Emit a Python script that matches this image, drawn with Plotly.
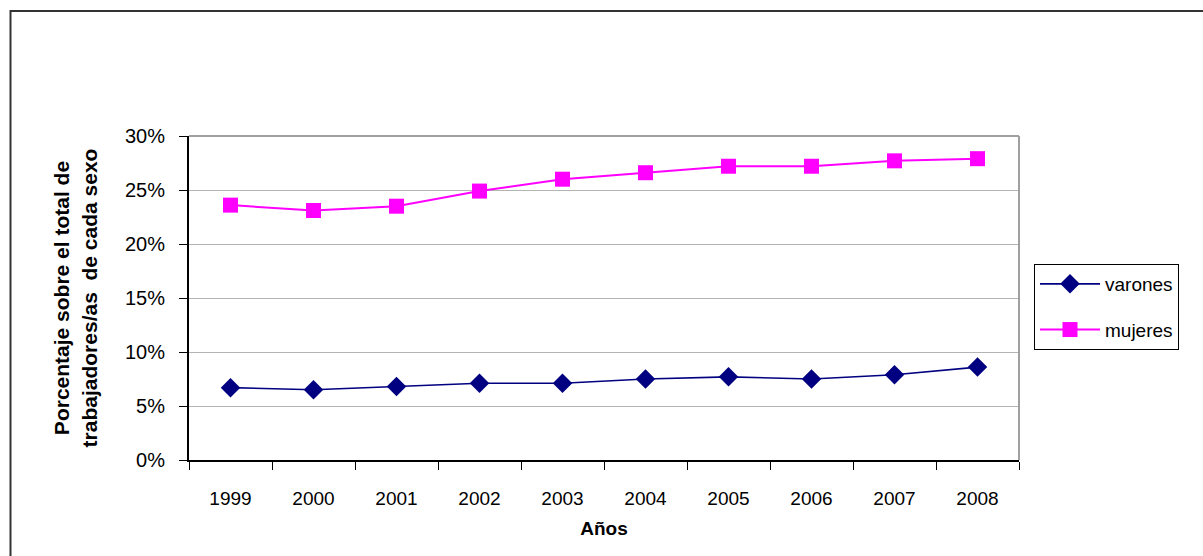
import plotly.graph_objects as go

# Años y porcentajes por sexo
anios = ["1999", "2000", "2001", "2002", "2003", "2004", "2005", "2006", "2007", "2008"]
varones = [6.7, 6.5, 6.8, 7.1, 7.1, 7.5, 7.7, 7.5, 7.9, 8.6]
mujeres = [23.6, 23.1, 23.5, 24.9, 26.0, 26.6, 27.2, 27.2, 27.7, 27.9]
y_ticks = [0, 5, 10, 15, 20, 25, 30]
y_labels = [f"{v}%" for v in y_ticks]

W, H = 1203, 556
L, R, T, B = 189, 1019, 136, 460   # plot area in pixels

SANS = "Liberation Sans, Arial, sans-serif"


def px_x(p):
    return (p - L) / (R - L)


def px_y(p):
    return (B - p) / (B - T)


fig = go.Figure()
fig.add_trace(go.Scatter(
    x=anios, y=varones, name="varones", legendgroup="v", mode="lines+markers",
    line=dict(color="#000080", width=1.6),
    marker=dict(symbol="diamond", size=15, color="#000080"),
))
fig.add_trace(go.Scatter(
    x=anios, y=mujeres, name="mujeres", legendgroup="m", mode="lines+markers",
    line=dict(color="#FF00FF", width=2),
    marker=dict(symbol="square", size=15, color="#FF00FF"),
))

fig.update_layout(
    width=W, height=H,
    margin=dict(l=L, r=W - R, t=T, b=H - B),
    paper_bgcolor="white", plot_bgcolor="white",
    font=dict(family=SANS, size=19, color="black"),
    showlegend=True,
    legend=dict(
        x=px_x(1034), y=px_y(264), xanchor="left", yanchor="top",
        bordercolor="black", borderwidth=1, bgcolor="white",
        font=dict(family=SANS, size=19),
        tracegroupgap=18, itemsizing="trace", itemwidth=60,
    ),
    xaxis=dict(
        type="category", tickson="boundaries", range=[-0.5, 9.5],
        ticks="outside", ticklen=8, tickcolor="black",
        showline=True, linecolor="black", linewidth=2,
        showgrid=False, mirror=False, ticklabelstandoff=20,
        tickfont=dict(family=SANS, size=19),
        title=dict(text="<b>Años</b>", font=dict(family=SANS, size=19), standoff=14),
    ),
    yaxis=dict(
        range=[0, 30], tickmode="array", tickvals=y_ticks, ticktext=y_labels,
        ticks="outside", ticklen=8, tickcolor="black", ticklabelstandoff=10,
        showline=True, linecolor="black", linewidth=2,
        showgrid=True, gridcolor="#b4b4b4", gridwidth=1,
        zeroline=False,
        tickfont=dict(family=SANS, size=20),
        title=dict(
            text="<b>Porcentaje sobre el total de<br>trabajadores/as  de cada sexo</b>",
            font=dict(family=SANS, size=21), standoff=22,
        ),
    ),
    shapes=[
        # plot-area frame (top and right edges in gray)
        dict(type="line", xref="paper", yref="paper", x0=0, x1=1, y0=1, y1=1,
             line=dict(color="#a0a0a0", width=2)),
        dict(type="line", xref="paper", yref="paper", x0=1, x1=1, y0=0, y1=1,
             line=dict(color="#a0a0a0", width=2)),
        # outer chart border
        dict(type="rect", xref="paper", yref="paper",
             x0=px_x(10.5), x1=px_x(1215), y0=px_y(11), y1=px_y(570),
             line=dict(color="#333333", width=2), layer="below"),
    ],
)

fig.write_html("out.html")
